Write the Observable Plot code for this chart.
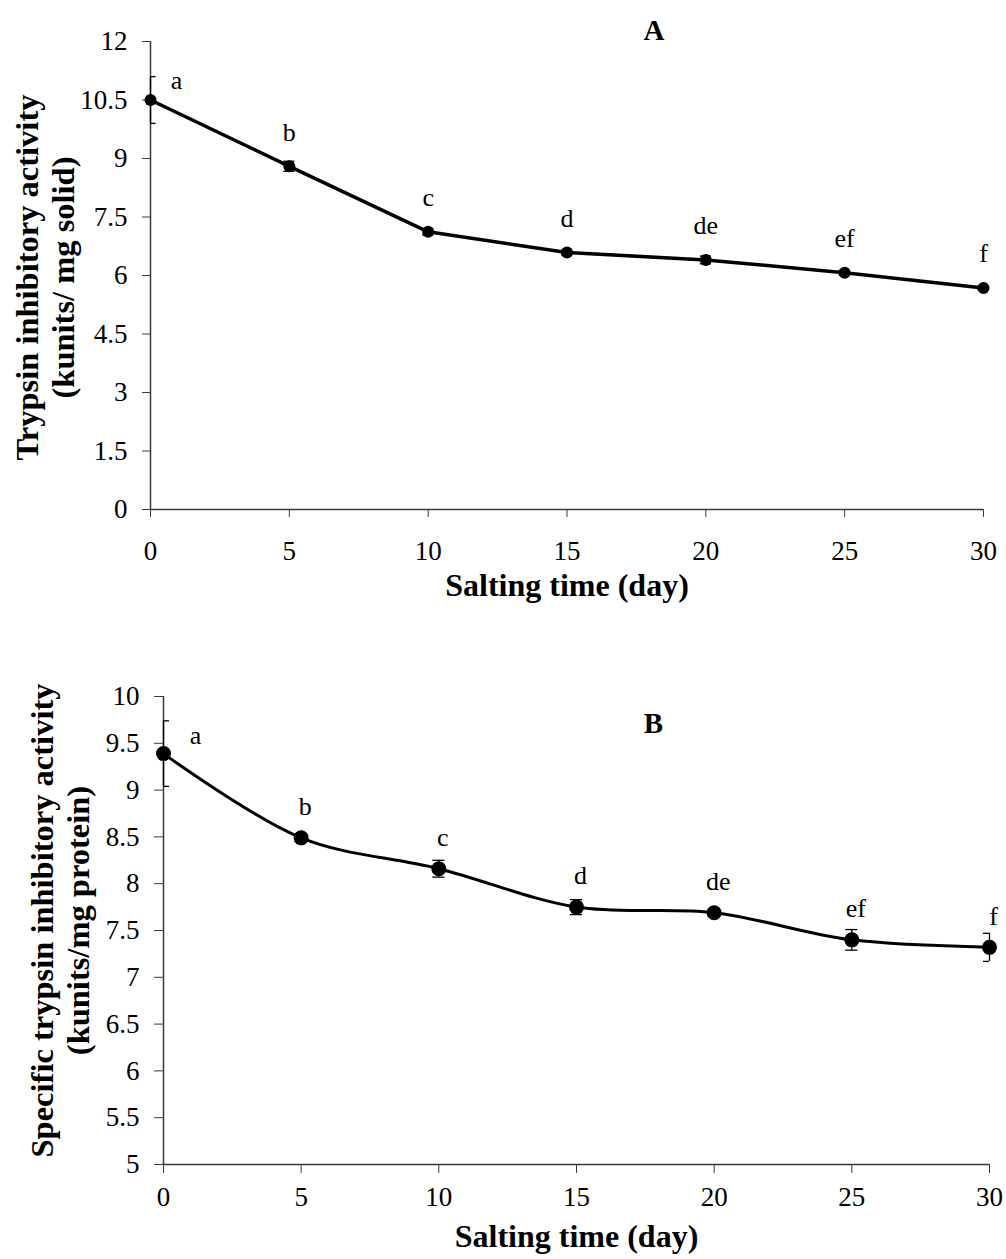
<!DOCTYPE html>
<html>
<head>
<meta charset="utf-8">
<script src="https://cdn.jsdelivr.net/npm/d3@7"></script>
<script src="https://cdn.jsdelivr.net/npm/@observablehq/plot@0.6"></script>
<style>
  html, body { margin: 0; padding: 0; background: #fff; }
  #wrap { width: 1006px; }
  svg { display: block; }
</style>
</head>
<body>
<div id="wrap"><div id="chartA"></div><div id="chartB"></div></div>
<script>
const days = [0, 5, 10, 15, 20, 25, 30];
const letters = ["a", "b", "c", "d", "de", "ef", "f"];
const activityA = [10.5, 8.8, 7.12, 6.59, 6.40, 6.07, 5.68];
const errorA = [0.6, 0.13, 0.08, 0.06, 0.1, 0.06, 0.05];
const specificB = [9.39, 8.49, 8.16, 7.75, 7.69, 7.40, 7.32];
const errorB = [0.35, 0.04, 0.09, 0.08, 0.04, 0.11, 0.15];
const yTicksA = [0, 1.5, 3, 4.5, 6, 7.5, 9, 10.5, 12];
const yTicksB = [5, 5.5, 6, 6.5, 7, 7.5, 8, 8.5, 9, 9.5, 10];
const xTicks = [0, 5, 10, 15, 20, 25, 30];

const dataA = days.map((d, i) => ({day: d, v: activityA[i], e: errorA[i], lab: letters[i]}));
const dataB = days.map((d, i) => ({day: d, v: specificB[i], e: errorB[i], lab: letters[i]}));

const FONT = "'Liberation Serif', 'Times New Roman', serif";
const AXIS = "#3a3a3a";

function panel(opts) {
  const {data, width, height, mL, mR, mT, mB, ydom, yticks, ylabel, panelLabel,
         curve, r, sw, capHalf, xPad, yPad, tick, ylabDx, ylabDy, titleDy, letterDx, letterDy,
         aDx, aDy, pDx, pDy} = opts;
  return Plot.plot({
    width, height,
    marginLeft: mL, marginRight: mR, marginTop: mT, marginBottom: mB,
    style: {fontFamily: FONT, fontSize: "27px", color: "#000", background: "#fff", overflow: "visible"},
    x: {domain: [0, 30]},
    y: {domain: ydom},
    marks: [
      Plot.axisX({ticks: xTicks, tickSize: tick, tickPadding: xPad, label: null, stroke: AXIS, tickFormat: d => String(d), fontSize: 27}),
      Plot.axisY({ticks: yticks, tickSize: tick, tickPadding: yPad, label: null, stroke: AXIS, tickFormat: d => String(d), fontSize: 27}),
      Plot.ruleX([0], {stroke: AXIS, strokeWidth: 1.5}),
      Plot.ruleY([ydom[0]], {stroke: AXIS, strokeWidth: 1.5}),
      Plot.ruleX(data, {x: "day", y1: d => d.v - d.e, y2: d => d.v + d.e, stroke: "#000", strokeWidth: 1.3}),
      Plot.ruleY(data, {y: d => d.v + d.e, x1: d => d.day - capHalf, x2: d => d.day + capHalf, stroke: "#000", strokeWidth: 1.3, clip: true}),
      Plot.ruleY(data, {y: d => d.v - d.e, x1: d => d.day - capHalf, x2: d => d.day + capHalf, stroke: "#000", strokeWidth: 1.3, clip: true}),
      Plot.line(data, {x: "day", y: "v", curve, stroke: "#000", strokeWidth: sw}),
      Plot.dot(data, {x: "day", y: "v", r, fill: "#000", stroke: "none"}),
      Plot.text(data.slice(1), {x: "day", y: "v", text: "lab", dx: letterDx, dy: letterDy, fontSize: 26, fill: "#000"}),
      Plot.text(data.slice(0, 1), {x: "day", y: "v", text: "lab", dx: aDx, dy: aDy, fontSize: 26, fill: "#000"}),
      Plot.text([ylabel], {frameAnchor: "left", textAnchor: "middle", lineAnchor: "middle", rotate: -90, dx: ylabDx, dy: ylabDy, fontSize: 32.5, fontWeight: "bold", lineHeight: 1.1, fill: "#000"}),
      Plot.text(["Salting time (day)"], {frameAnchor: "bottom", lineAnchor: "middle", dy: titleDy, fontSize: 32, fontWeight: "bold", fill: "#000"}),
      Plot.text([panelLabel], {frameAnchor: "top", lineAnchor: "middle", dx: pDx, dy: pDy, fontSize: 29, fontWeight: "bold", fill: "#000"})
    ]
  });
}

const chartA = panel({
  data: dataA, width: 1006, height: 630, mL: 150, mR: 23, mT: 41, mB: 121,
  ydom: [0, 12], yticks: yTicksA,
  ylabel: "Trypsin inhibitory activity\n(kunits/ mg solid)", panelLabel: "A",
  curve: "linear", r: 6, sw: 3.5, capHalf: 0.2, xPad: 23, yPad: 15, tick: 8,
  ylabDx: -106, ylabDy: 2, titleDy: 76, letterDx: 0, letterDy: -34, aDx: 26, aDy: -19, pDx: 87, pDy: -11
});
document.getElementById("chartA").append(chartA);

const chartB = panel({
  data: dataB, width: 1006, height: 629, mL: 163, mR: 17, mT: 66, mB: 95,
  ydom: [5, 10], yticks: yTicksB,
  ylabel: "Specific trypsin inhibitory activity\n(kunits/mg protein)", panelLabel: "B",
  curve: "catmull-rom", r: 7.5, sw: 3, capHalf: 0.22, xPad: 13, yPad: 15, tick: 9,
  ylabDx: -104, ylabDy: -10, titleDy: 72, letterDx: 4, letterDy: -31, aDx: 32, aDy: -18, pDx: 77, pDy: 27
});
document.getElementById("chartB").append(chartB);
</script>
</body>
</html>
